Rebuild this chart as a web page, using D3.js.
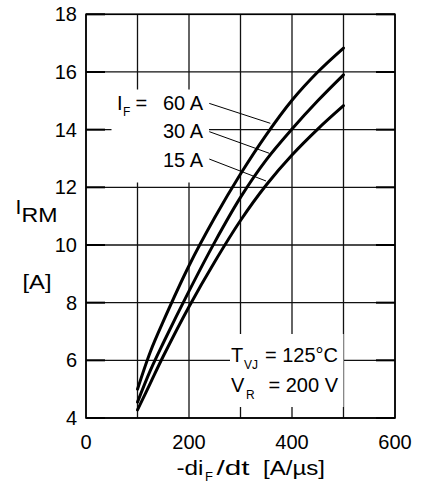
<!DOCTYPE html>
<html><head><meta charset="utf-8">
<script src="https://cdn.jsdelivr.net/npm/d3@7/dist/d3.min.js"></script>
<style>
body{margin:0;background:#fff;}
text{font-family:"Liberation Sans",Arial,Helvetica,sans-serif;fill:#000;}
</style></head>
<body><svg id="c" width="422" height="488"></svg>
<script>
// ---- data ----
const diDt = [100,125,150,200,250,300,350,400,450,500];
const irm60 = [5.0,6.3,7.35,9.28,10.95,12.46,13.82,15.02,16.0,16.83];
const irm30 = [4.55,5.65,6.6,8.4,10.1,11.65,12.95,14.02,15.0,15.9];
const irm15 = [4.28,5.21,6.14,7.86,9.42,10.85,12.08,13.12,14.02,14.83];
const seriesNames = ["60 A","30 A","15 A"];
const xTickLabels = [0,200,400,600];
const yTickLabels = [4,6,8,10,12,14,16,18];
const xGrid = [0,100,200,300,400,500,600];
// leader lines: [x0,y0] -> [x1,y1] in data units
const leaderStart = [[239.4,14.91],[239.4,13.93],[239.4,12.98]];
const leaderEnd = [[357.9,14.22],[355.9,13.18],[349.5,12.22]];

const svg = d3.select("#c");
const x = d3.scaleLinear().domain([0,600]).range([86,395]);
const y = d3.scaleLinear().domain([4,18]).range([418,14.3]);

// grid
const g = svg.append("g");
g.selectAll(".vg").data(xGrid).enter().append("line")
 .attr("x1",d=>x(d)).attr("x2",d=>x(d)).attr("y1",y(4)).attr("y2",y(18))
 .attr("stroke","#111").attr("stroke-width",1.3);
g.selectAll(".hg").data(yTickLabels).enter().append("line")
 .attr("x1",x(0)).attr("x2",x(600)).attr("y1",d=>y(d)).attr("y2",d=>y(d))
 .attr("stroke","#111").attr("stroke-width",1.3);
// inward ticks left/right
g.selectAll(".tl").data(yTickLabels).enter().append("line")
 .attr("x1",x(0)).attr("x2",x(0)+19).attr("y1",d=>y(d)).attr("y2",d=>y(d))
 .attr("stroke","#000").attr("stroke-width",2);
g.selectAll(".tr").data(yTickLabels).enter().append("line")
 .attr("x1",x(600)-19).attr("x2",x(600)).attr("y1",d=>y(d)).attr("y2",d=>y(d))
 .attr("stroke","#000").attr("stroke-width",2);

// white boxes behind labels
svg.append("rect").attr("x",111.5).attr("y",89.5).attr("width",97.5).attr("height",93).attr("fill","#fff");
svg.append("rect").attr("x",230).attr("y",334).attr("width",113.5).attr("height",73).attr("fill","#fff");

// frame
svg.append("rect").attr("x",x(0)).attr("y",y(18)).attr("width",x(600)-x(0)).attr("height",y(4)-y(18))
 .attr("fill","none").attr("stroke","#000").attr("stroke-width",1.6);

// curves
const line = d3.line().x(d=>x(d[0])).y(d=>y(d[1])).curve(d3.curveCatmullRom.alpha(0.5));
[irm60,irm30,irm15].forEach(s=>{
  svg.append("path").attr("d",line(diDt.map((v,i)=>[v,s[i]])))
   .attr("fill","none").attr("stroke","#000").attr("stroke-width",3).attr("stroke-linecap","round");
});

// leaders
leaderStart.forEach((s,i)=>{
  svg.append("line").attr("x1",x(s[0])).attr("y1",y(s[1])).attr("x2",x(leaderEnd[i][0])).attr("y2",y(leaderEnd[i][1]))
   .attr("stroke","#000").attr("stroke-width",1);
});

// tick labels
svg.selectAll(".yl").data(yTickLabels).enter().append("text")
 .attr("x",77).attr("y",d=>y(d)+7).attr("text-anchor","end").attr("font-size",20).text(d=>d);
svg.selectAll(".xl").data(xTickLabels).enter().append("text")
 .attr("x",d=>x(d)).attr("y",448.5).attr("text-anchor","middle").attr("font-size",20).text(d=>d);

// series labels
const labelY = [110,138.3,166.7];
seriesNames.forEach((n,i)=>{
  svg.append("text").attr("x",203).attr("y",labelY[i]).attr("text-anchor","end").attr("font-size",20).text(n);
});
svg.append("text").attr("x",117).attr("y",110).attr("font-size",20).text("I");
svg.append("text").attr("x",123).attr("y",115.5).attr("font-size",12).text("F");
svg.append("text").attr("x",135.5).attr("y",110).attr("font-size",20).text("=");

// conditions
svg.append("text").attr("x",231).attr("y",362.3).attr("font-size",20).text("T");
svg.append("text").attr("x",244).attr("y",369).attr("font-size",12).text("VJ");
svg.append("text").attr("x",338).attr("y",362.3).attr("text-anchor","end").attr("font-size",20).text("= 125°C");
svg.append("text").attr("x",231).attr("y",392.3).attr("font-size",20).text("V");
svg.append("text").attr("x",246).attr("y",399).attr("font-size",12).text("R");
svg.append("text").attr("x",338).attr("y",392.3).attr("text-anchor","end").attr("font-size",20).text("= 200 V");

// y title
svg.append("text").attr("x",15.5).attr("y",214.3).attr("font-size",21).text("I");
svg.append("text").attr("x",21.5).attr("y",221.7).attr("font-size",21).attr("textLength",36).attr("lengthAdjust","spacingAndGlyphs").text("RM");
svg.append("text").attr("x",22.5).attr("y",288.5).attr("font-size",20).attr("textLength",29).attr("lengthAdjust","spacingAndGlyphs").text("[A]");

// x title
svg.append("text").attr("x",176.5).attr("y",474.5).attr("font-size",20).attr("textLength",27).attr("lengthAdjust","spacingAndGlyphs").text("-di");
svg.append("text").attr("x",205).attr("y",481).attr("font-size",13).text("F");
svg.append("text").attr("x",216.5).attr("y",474.5).attr("font-size",20).attr("textLength",33).attr("lengthAdjust","spacingAndGlyphs").text("/dt");
svg.append("text").attr("x",263).attr("y",474.5).attr("font-size",20).attr("textLength",62).attr("lengthAdjust","spacingAndGlyphs").text("[A/µs]");
</script></body></html>
